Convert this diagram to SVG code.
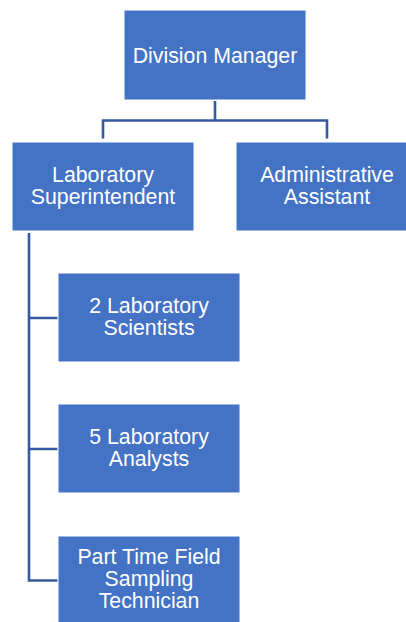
<svg xmlns="http://www.w3.org/2000/svg" width="406" height="622" viewBox="0 0 406 622">
  <style>
    .box { fill: #4472C4; stroke: #FFFFFF; stroke-width: 1; }
    .lbl { fill: #FFFFFF; font-family: "Liberation Sans", Arial, sans-serif; font-size: 21.3px; text-anchor: middle; }
    .conn { fill: none; stroke: #3559A3; stroke-width: 2.6; }
  </style>
  <rect width="406" height="622" fill="#FFFFFF"/>

  <!-- connectors -->
  <g id="connectors">
    <path class="conn" d="M215 101 V120.5 M103 138.5 V120.5 H327 V138.5"/>
    <path class="conn" d="M29 233 V580.5 H58 M29 318 H58 M29 449 H58"/>
  </g>

  <g id="division-manager">
    <rect class="box" x="124" y="10" width="182" height="90"/>
    <text class="lbl" x="215" y="62.5">Division Manager</text>
  </g>

  <g id="lab-superintendent">
    <rect class="box" x="12" y="142" width="182" height="89"/>
    <text class="lbl" x="103" y="182">Laboratory</text>
    <text class="lbl" x="103" y="204">Superintendent</text>
  </g>

  <g id="admin-assistant">
    <rect class="box" x="236" y="142" width="182" height="89"/>
    <text class="lbl" x="327" y="182">Administrative</text>
    <text class="lbl" x="327" y="204">Assistant</text>
  </g>

  <g id="lab-scientists">
    <rect class="box" x="58" y="273" width="182" height="89"/>
    <text class="lbl" x="149" y="312.8">2 Laboratory</text>
    <text class="lbl" x="149" y="334.8">Scientists</text>
  </g>

  <g id="lab-analysts">
    <rect class="box" x="58" y="404" width="182" height="89"/>
    <text class="lbl" x="149" y="444">5 Laboratory</text>
    <text class="lbl" x="149" y="466">Analysts</text>
  </g>

  <g id="field-technician">
    <rect class="box" x="58" y="536" width="182" height="89"/>
    <text class="lbl" x="149" y="564.2">Part Time Field</text>
    <text class="lbl" x="149" y="586.2">Sampling</text>
    <text class="lbl" x="149" y="608.2">Technician</text>
  </g>
</svg>
